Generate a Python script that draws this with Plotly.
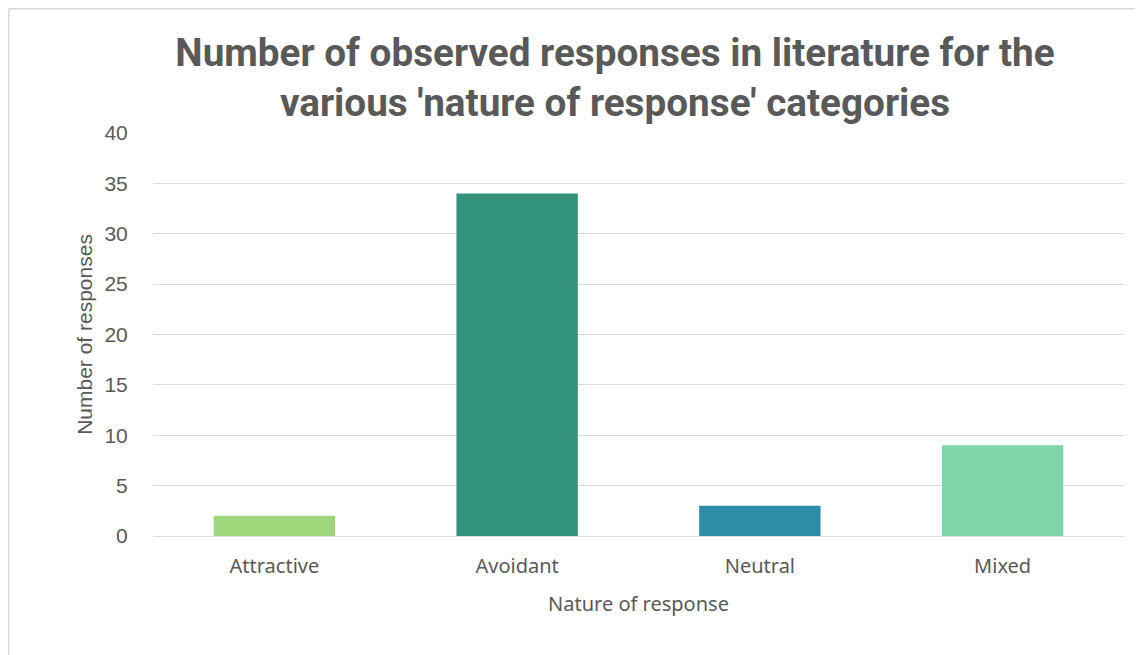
import plotly.graph_objects as go

categories = ["Attractive", "Avoidant", "Neutral", "Mixed"]
values = [2, 34, 3, 9]
colors = ["#9FD57B", "#33937A", "#2E8CA8", "#7ED5A8"]
y_ticks = [0, 5, 10, 15, 20, 25, 30, 35, 40]

off = 8  # page body margin
W, H = 1143 - off, 655 - off
ml, mt = 153 - off, 133 - off
pw, ph = 971, 403
mr, mb = W - ml - pw, H - mt - ph

fig = go.Figure(go.Bar(x=categories, y=values, marker=dict(color=colors, line=dict(width=0)), width=0.5))

bx = (0.75 - ml) / pw
by = 1 + (mt - 0.75) / ph
border = dict(color="#D9D9D9", width=1.5)

fig.update_layout(
    width=W, height=H,
    margin=dict(l=ml, r=mr, t=mt, b=mb),
    paper_bgcolor="white", plot_bgcolor="white",
    showlegend=False,
    title=dict(
        text="Number of observed responses in literature for the<br>various 'nature of response' categories",
        x=(615 - off) / W, xanchor="center", y=1 - 58 / H, yanchor="middle",
        font=dict(family="Roboto, Liberation Sans, Arial", size=38.7, color="#595959", weight="bold"),
    ),
    font=dict(family="Liberation Sans, Arial", color="#595959"),
    xaxis=dict(
        title=dict(text="Nature of response", font=dict(size=20, color="#595959", family="Noto Sans"), standoff=18),
        tickfont=dict(size=20, color="#595959", family="Noto Sans"),
        showgrid=False, showline=False, ticks="outside", ticklen=12, tickcolor="rgba(0,0,0,0)",
    ),
    yaxis=dict(
        title=dict(text="Number of responses", font=dict(size=21, color="#595959"), standoff=6),
        range=[0, 40], tickvals=y_ticks, tickfont=dict(size=21, color="#595959"),
        showgrid=True, gridcolor="#D9D9D9", gridwidth=1.3,
        zeroline=True, zerolinecolor="#D9D9D9", zerolinewidth=1.3,
        ticks="outside", ticklen=20, tickcolor="rgba(0,0,0,0)",
    ),
    shapes=[
        dict(type="line", xref="paper", yref="paper", x0=bx, x1=bx, y0=-0.5, y1=by, line=border, layer="below"),
        dict(type="line", xref="paper", yref="paper", x0=bx, x1=1.05, y0=by, y1=by, line=border, layer="below"),
    ],
)

fig.write_html("out.html")
